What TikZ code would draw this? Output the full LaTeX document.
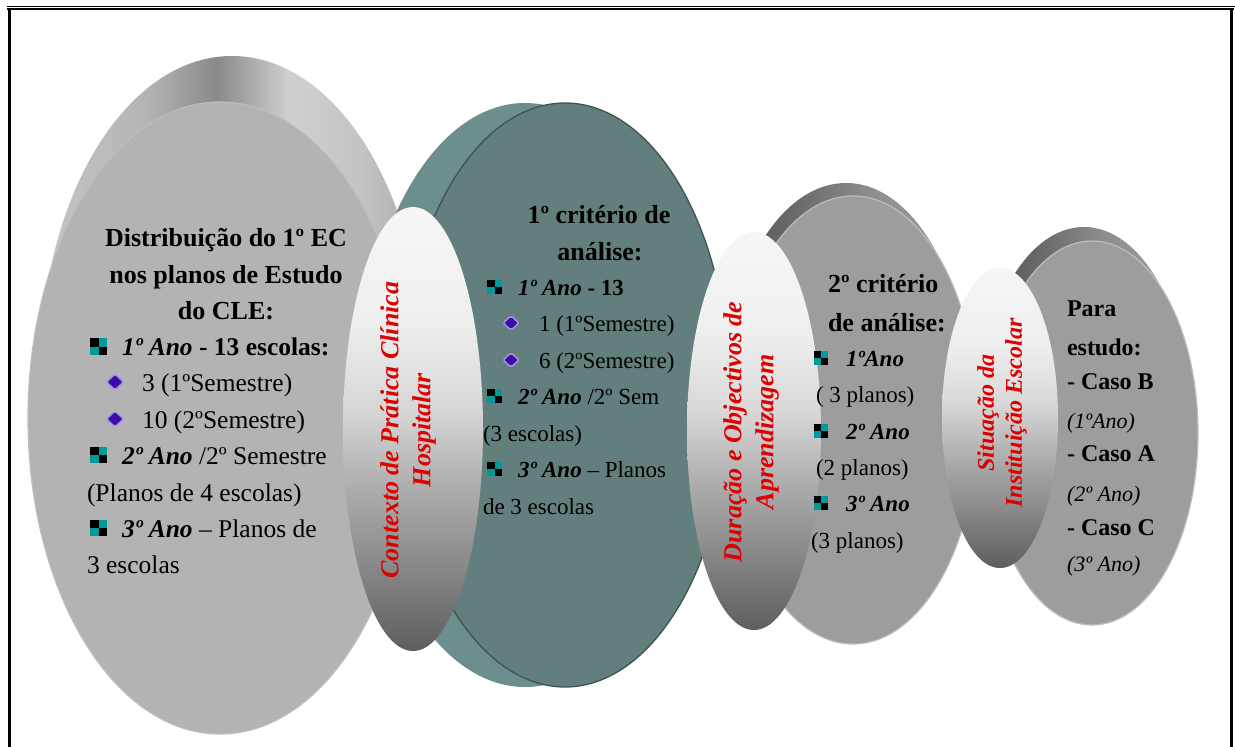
\documentclass[tikz,border=0pt]{standalone}
\usepackage{fontspec}
\setmainfont{Liberation Serif}
\usetikzlibrary{shapes.geometric}

\definecolor{facegray}{HTML}{B3B3B3}
\definecolor{midgray}{HTML}{9D9D9D}
\definecolor{edgegray}{HTML}{BDBDBD}
\definecolor{tealface}{HTML}{627F7D}
\definecolor{tealrim}{HTML}{6C8E8C}
\definecolor{tealline}{HTML}{3E5352}
\definecolor{bulteal}{HTML}{009A9A}
\definecolor{dpurple}{HTML}{3A0CA8}
\definecolor{dlav}{HTML}{A890E0}
\definecolor{labred}{HTML}{DD0000}
% lens shading colours
\definecolor{lensA}{HTML}{5E5E5E}
\definecolor{lensB}{HTML}{8A8A8A}
\definecolor{lensC}{HTML}{B0B0B0}
\definecolor{lensD}{HTML}{D8D8D8}
\definecolor{lensE}{HTML}{EFEFEF}
\definecolor{lensF}{HTML}{F6F6F6}
% big rim colours
\definecolor{raA}{HTML}{C6C6C6}
\definecolor{raB}{HTML}{B4B4B4}
\definecolor{raC}{HTML}{8A8A8A}
\definecolor{raD}{HTML}{D0D0D0}
\definecolor{raE}{HTML}{C4C4C4}
\definecolor{raF}{HTML}{ABABAB}
% small rim colours
\definecolor{rcA}{HTML}{555555}
\definecolor{rcB}{HTML}{6A6A6A}
\definecolor{rcC}{HTML}{8E8E8E}
\definecolor{rcD}{HTML}{A0A0A0}

\pgfdeclareverticalshading{lens}{100bp}{color(0bp)=(lensA); color(25bp)=(lensA); color(35bp)=(lensB); color(44bp)=(lensC); color(52.5bp)=(lensD); color(62.5bp)=(lensE); color(75bp)=(lensF); color(100bp)=(lensF)}
\pgfdeclarehorizontalshading{rimbig}{100bp}{color(0bp)=(raA); color(25bp)=(raA); color(39bp)=(raB); color(48bp)=(raC); color(57.6bp)=(raD); color(66.7bp)=(raE); color(75bp)=(raF); color(100bp)=(raF)}
\pgfdeclarehorizontalshading{rimsmall}{100bp}{color(0bp)=(rcA); color(25bp)=(rcA); color(40bp)=(rcB); color(55bp)=(rcC); color(75bp)=(rcD); color(100bp)=(rcD)}

\newcommand{\fHead}{\fontsize{26}{30}\selectfont\bfseries}
\newcommand{\fBodyL}{\fontsize{25.5}{30}\selectfont}
\newcommand{\fBodyS}{\fontsize{23}{28}\selectfont}
\newcommand{\fBodyE}{\fontsize{24}{28}\selectfont}
\newcommand{\bi}[1]{\textbf{\textit{#1}}}

\tikzset{
  lensnode/.style={ellipse, inner sep=0, outer sep=0, shade, shading=lens},
  txt/.style={inner sep=0, outer sep=0, anchor=base west},
  ctxt/.style={inner sep=0, outer sep=0, anchor=base},
  labtxt/.style={rotate=90, align=center, text=labred, inner sep=0, font=\fontsize{26}{32}\selectfont\bfseries\itshape},
  sqbul/.pic={
    \fill[black]   (-8,-8) rectangle (0,0);
    \fill[bulteal] (0,-8) rectangle (8,0);
    \fill[bulteal] (-8,0) rectangle (0,8);
    \fill[black]   (0,0) rectangle (8,8);
  },
  dmbul/.pic={
    \filldraw[fill=dpurple, draw=dlav, line width=1.5, rounded corners=2]
      (0,-8) -- (8.5,0) -- (0,8) -- (-8.5,0) -- cycle;
  }
}

\begin{document}
\begin{tikzpicture}[x=1pt,y=-1pt]
\useasboundingbox (0,0) rectangle (1235,747);
\fill[white] (0,0) rectangle (1235,747);

% frame
\draw[line width=1.2] (7,6.3) -- (1235,6.3);
\draw[line width=2] (7.3,9.3) -- (1234,9.3);
\draw[line width=3.5] (9.3,8.3) -- (9.3,747);
\draw[line width=3.5] (1231.5,8.3) -- (1231.5,747);

% big left disc
\node[ellipse, inner sep=0, minimum width=384, minimum height=632, shade, shading=rimbig] (bigback) at (232,372) {};
\node[ellipse, inner sep=0, minimum width=384, minimum height=632, fill=facegray, draw=edgegray, line width=1.2] (big) at (220,418) {};

% teal disc
\node[ellipse, inner sep=0, minimum width=330, minimum height=584, fill=tealrim] (tealback) at (525,395) {};
\node[ellipse, inner sep=0, minimum width=330, minimum height=584, fill=tealface, draw=tealline, line width=1.3] (teal) at (565,395) {};

% lens A
\node[lensnode, minimum width=140, minimum height=444] (lensA) at (413,429) {};

% disc C
\node[ellipse, inner sep=0, minimum width=250, minimum height=448, shade, shading=rimsmall] (cback) at (846,407) {};
\node[ellipse, inner sep=0, minimum width=250, minimum height=448, fill=midgray, draw=edgegray, line width=1.2] (cdisc) at (853,420) {};

% lens B
\node[lensnode, minimum width=134, minimum height=398] (lensB) at (754,431) {};

% disc E
\node[ellipse, inner sep=0, minimum width=212, minimum height=384, shade, shading=rimsmall] (eback) at (1084,419) {};
\node[ellipse, inner sep=0, minimum width=212, minimum height=384, fill=midgray, draw=edgegray, line width=1.2] (edisc) at (1092,433) {};

% lens D
\node[lensnode, minimum width=116, minimum height=300] (lensD) at (1000,418) {};

% rotated labels
\node[labtxt] (labA) at (408,430) {Contexto de Prática Clínica\\Hospitalar};
\node[labtxt] (labB) at (751,432) {Duração e Objectivos de\\Aprendizagem};
\node[labtxt, font=\fontsize{24}{28}\selectfont\bfseries\itshape] (labD) at (1002,413) {Situação da\\Instituição Escolar};

% left block
\node[ctxt, font=\fHead] (l1) at (226,246) {Distribuição do 1º EC};
\node[ctxt, font=\fHead] (l2) at (226,283) {nos planos de Estudo};
\node[ctxt, font=\fHead] (l3) at (226,319) {do CLE:};
\pic[scale=1.05] (bl4) at (98.5,346.5) {sqbul};
\node[txt, font=\fBodyL] (l4) at (122,355) {\bi{1º Ano} \textbf{- 13 escolas:}};
\pic (bl5) at (115,382) {dmbul};
\node[txt, font=\fBodyL] (l5) at (142,391) {3 (1ºSemestre)};
\pic (bl6) at (115,419) {dmbul};
\node[txt, font=\fBodyL] (l6) at (142,428) {10 (2ºSemestre)};
\pic[scale=1.05] (bl7) at (98.5,455) {sqbul};
\node[txt, font=\fBodyL] (l7) at (122,464) {\bi{2º Ano} /2º Semestre};
\node[txt, font=\fBodyL] (l8) at (87,501) {(Planos de 4 escolas)};
\pic[scale=1.05] (bl9) at (98.5,528) {sqbul};
\node[txt, font=\fBodyL] (l9) at (122,537) {\bi{3º Ano} – Planos de};
\node[txt, font=\fBodyL] (l10) at (87,573) {3 escolas};

% teal block
\node[ctxt, font=\fHead] (t1) at (599,223) {1º critério de};
\node[ctxt, font=\fHead] (t2) at (600,260) {análise:};
\pic[scale=0.92] (bt3) at (494.5,287) {sqbul};
\node[txt, font=\fBodyS] (t3) at (518,295) {\bi{1º Ano} \textbf{- 13}};
\pic[scale=0.92] (bt4) at (511,323) {dmbul};
\node[txt, font=\fBodyS] (t4) at (539,331) {1 (1ºSemestre)};
\pic[scale=0.92] (bt5) at (511,360) {dmbul};
\node[txt, font=\fBodyS] (t5) at (539,368) {6 (2ºSemestre)};
\pic[scale=0.92] (bt6) at (494.5,396) {sqbul};
\node[txt, font=\fBodyS] (t6) at (518,404) {\bi{2º Ano} /2º Sem};
\node[txt, font=\fBodyS] (t7) at (483,441) {(3 escolas)};
\pic[scale=0.92] (bt8) at (494.5,469) {sqbul};
\node[txt, font=\fBodyS] (t8) at (518,477) {\bi{3º Ano} – Planos};
\node[txt, font=\fBodyS] (t9) at (483,514) {de 3 escolas};

% second criterion block
\node[txt, font=\fHead] (c1) at (828,292) {2º critério};
\node[txt, font=\fHead] (c2) at (828,331) {de análise:};
\pic[scale=0.88] (bc3) at (821,358) {sqbul};
\node[txt, font=\fBodyS] (c3) at (846,366) {\bi{1ºAno}};
\node[txt, font=\fBodyS] (c4) at (816,402) {( 3 planos)};
\pic[scale=0.88] (bc5) at (821,431) {sqbul};
\node[txt, font=\fBodyS] (c5) at (846,439) {\bi{2º Ano}};
\node[txt, font=\fBodyS] (c6) at (816,475) {(2 planos)};
\pic[scale=0.88] (bc7) at (821,503) {sqbul};
\node[txt, font=\fBodyS] (c7) at (846,511) {\bi{3º Ano}};
\node[txt, font=\fBodyS] (c8) at (811,548) {(3 planos)};

% right block
\node[txt, font=\fBodyE\bfseries] (e1) at (1067,316) {Para};
\node[txt, font=\fBodyE\bfseries] (e2) at (1067,355) {estudo:};
\node[txt, font=\fBodyE\bfseries] (e3) at (1067,389) {- Caso B};
\node[txt, font=\fontsize{22}{26}\selectfont\itshape] (e4) at (1067,428) {(1ºAno)};
\node[txt, font=\fBodyE\bfseries] (e5) at (1067,461) {- Caso A};
\node[txt, font=\fontsize{22}{26}\selectfont\itshape] (e6) at (1067,501) {(2º Ano)};
\node[txt, font=\fBodyE\bfseries] (e7) at (1067,535) {- Caso C};
\node[txt, font=\fontsize{22}{26}\selectfont\itshape] (e8) at (1067,571) {(3º Ano)};
\end{tikzpicture}
\end{document}
